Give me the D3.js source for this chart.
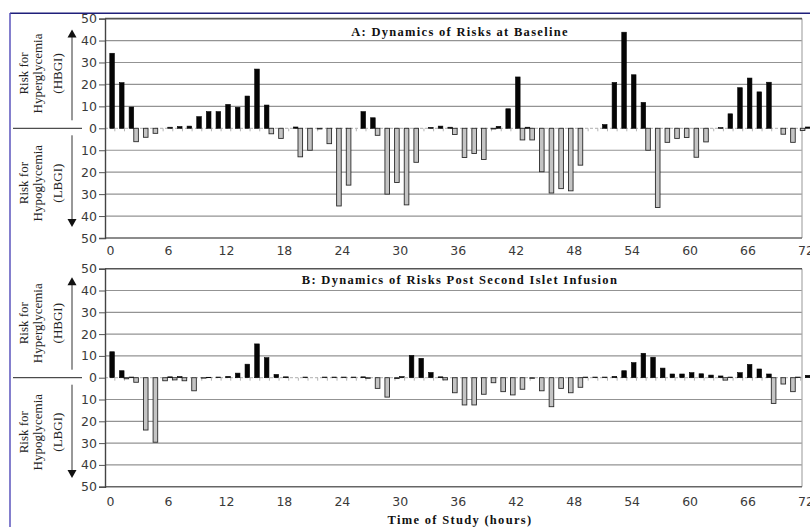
<!DOCTYPE html>
<html>
<head>
<meta charset="utf-8">
<script src="https://cdn.jsdelivr.net/npm/d3@7"></script>
<style>
  html, body { margin: 0; padding: 0; background: #fff; }
  svg { display: block; }
</style>
</head>
<body>
<svg id="chart" width="810" height="527"></svg>
<script>
// ---- data -------------------------------------------------------------
const hours = d3.range(0, 73);                  // hourly categories 0..72
const hourTicks = [0, 6, 12, 18, 24, 30, 36, 42, 48, 54, 60, 66, 72];
const riskTicks = [-50, -40, -30, -20, -10, 0, 10, 20, 30, 40, 50];
const seriesNames = ["LBGI", "HBGI"];

const titleA = "A: Dynamics of Risks at Baseline";
const titleB = "B: Dynamics of Risks Post Second Islet Infusion";
const xTitle = "Time of Study (hours)";

// Panel A – baseline
const hbgiBaseline = [
  34.2, 20.8, 9.7, 0, 0, 0, 0.5, 0.8, 1.0, 5.3,
  7.6, 7.6, 10.9, 9.6, 14.7, 27.0, 10.6, 0, 0, 0.6,
  0, 0, 0, 0, 0, 0, 7.6, 4.8, 0, 0,
  0, 0, 0, 0.4, 1.0, 0.5, 0, 0, 0, 0,
  0.9, 8.9, 23.4, 0.5, 0, 0, 0, 0, 0, 0,
  0, 1.7, 20.9, 43.8, 24.4, 11.8, 0, 0, 0, 0,
  0, 0, 0, 0.3, 6.6, 18.5, 22.9, 16.6, 21.0, 0,
  0, 0, 0.6
];
const lbgiBaseline = [
  0, 0, 0, 6.1, 4.1, 2.3, 0, 0, 0, 0,
  0, 0, 0, 0, 0, 0, 0, 2.5, 4.6, 0,
  13.0, 10.0, 0.3, 7.0, 35.4, 25.9, 0, 0, 3.2, 30.0,
  24.7, 34.9, 15.5, 0, 0, 0, 2.8, 13.3, 11.5, 14.2,
  0.3, 0, 0, 5.3, 5.3, 19.8, 29.5, 27.5, 28.5, 16.8,
  0, 0, 0, 0, 0, 0, 10.0, 36.1, 6.4, 4.6,
  4.2, 13.2, 6.2, 0, 0, 0, 0, 0, 0, 0,
  2.7, 6.4, 1.0
];

// Panel B – after the second islet infusion
const hbgiPost = [
  11.9, 3.2, 0.3, 0, 0, 0, 0.4, 0.5, 0, 0,
  0.2, 0.3, 0.6, 2.1, 6.2, 15.5, 9.2, 1.5, 0.4, 0,
  0.3, 0, 0.3, 0.3, 0.3, 0.3, 0.4, 0, 0, 0,
  0.5, 10.2, 8.9, 2.4, 0.4, 0, 0, 0, 0, 0,
  0, 0, 0, 0, 0, 0, 0, 0, 0, 0.3,
  0.3, 0.3, 0.6, 3.2, 6.9, 11.2, 9.4, 4.4, 1.7, 1.7,
  2.3, 1.8, 1.2, 0.8, 0.3, 2.3, 6.1, 4.0, 1.7, 0,
  0, 0.3, 1.1
];
const lbgiPost = [
  0, 0, 0.5, 2.1, 24.0, 29.6, 1.4, 1.0, 1.4, 6.0,
  0.2, 0, 0, 0, 0, 0, 0, 0, 0, 0,
  0, 0, 0, 0, 0, 0, 0, 0.3, 4.9, 8.9,
  0.4, 0, 0, 0, 0, 1.0, 6.9, 12.5, 12.5, 7.6,
  2.3, 6.4, 7.9, 5.3, 0.3, 6.0, 13.3, 4.9, 6.9, 4.4,
  0, 0, 0, 0, 0, 0, 0, 0, 0, 0,
  0, 0, 0, 0, 1.1, 0, 0, 0, 0, 11.8,
  2.9, 6.4, 0
];

// ---- layout -----------------------------------------------------------
const svg = d3.select("#chart");
const plotLeft = 105, plotRight = 802;
const x = d3.scaleLinear().domain([0, 72]).range([110, 805.5]);
const inner = d3.scaleBand().domain(seriesNames).range([-5.2, 4.8]);

const tickFont = "'DejaVu Sans', Verdana, sans-serif";
const serifFont = "'Liberation Serif', 'Times New Roman', serif";

// outer figure frame
svg.append("line").attr("x1", 10).attr("x2", 810).attr("y1", 13.3).attr("y2", 13.3)
  .attr("stroke", "#1f1f7a").attr("stroke-width", 1.4);
svg.append("line").attr("x1", 10).attr("x2", 10).attr("y1", 13).attr("y2", 527)
  .attr("stroke", "#4f48b8").attr("stroke-width", 1.4);

const panels = [
  { top: 18.6, bottom: 238, hbgi: hbgiBaseline, lbgi: lbgiBaseline, title: titleA,
    titleY: 31.5, labelPad: 8.6, tipUp: 11, tipDown: 11 },
  { top: 268.7, bottom: 486.7, hbgi: hbgiPost, lbgi: lbgiPost, title: titleB,
    titleY: 279.5, labelPad: 10.2, tipUp: 8.6, tipDown: 8.7 }
];

panels.forEach(p => {
  const y = d3.scaleLinear().domain([-50, 50]).range([p.bottom, p.top]);
  const y0 = y(0);
  const g = svg.append("g");

  // horizontal gridlines
  g.selectAll("line.grid")
    .data(riskTicks.filter(t => Math.abs(t) !== 50 && t !== 0))
    .join("line")
    .attr("x1", plotLeft).attr("x2", plotRight)
    .attr("y1", d => y(d)).attr("y2", d => y(d))
    .attr("stroke", "#939393").attr("stroke-width", 1.2);

  // zero line (category axis) with category ticks
  g.append("line")
    .attr("x1", plotLeft).attr("x2", plotRight)
    .attr("y1", y0).attr("y2", y0)
    .attr("stroke", "#b0b0b0").attr("stroke-width", 1)
    .attr("stroke-dasharray", "3,2");
  g.selectAll("line.cat")
    .data(hours.slice(0, 72))
    .join("line")
    .attr("x1", d => (x(d) + x(d + 1)) / 2).attr("x2", d => (x(d) + x(d + 1)) / 2)
    .attr("y1", y0).attr("y2", y0 + 3)
    .attr("stroke", "#b5b5b5").attr("stroke-width", 1);

  // plot frame
  g.append("line").attr("x1", plotRight).attr("x2", plotRight)
    .attr("y1", p.top).attr("y2", p.bottom)
    .attr("stroke", "#a8a8a8").attr("stroke-width", 1.2);
  g.append("line").attr("x1", plotLeft).attr("x2", plotRight)
    .attr("y1", p.top).attr("y2", p.top)
    .attr("stroke", "#555").attr("stroke-width", 1.6);
  g.append("line").attr("x1", plotLeft).attr("x2", plotRight)
    .attr("y1", p.bottom).attr("y2", p.bottom)
    .attr("stroke", "#666").attr("stroke-width", 1.4);

  // hypoglycemia risk bars (downward, grey)
  g.selectAll("rect.lbgi")
    .data(hours.filter(h => p.lbgi[h] > 0))
    .join("rect")
    .attr("x", h => x(h) + inner("LBGI"))
    .attr("width", inner.bandwidth() - 0.4)
    .attr("y", y0)
    .attr("height", h => y(-p.lbgi[h]) - y0)
    .attr("fill", "#c4c4c4")
    .attr("stroke", "#2b2b2b").attr("stroke-width", 0.9);

  // hyperglycemia risk bars (upward, black)
  g.selectAll("rect.hbgi")
    .data(hours.filter(h => p.hbgi[h] > 0))
    .join("rect")
    .attr("x", h => x(h) + inner("HBGI"))
    .attr("width", inner.bandwidth() - 0.4)
    .attr("y", h => y(p.hbgi[h]))
    .attr("height", h => y0 - y(p.hbgi[h]))
    .attr("fill", "#050505")
    .attr("stroke", "#050505").attr("stroke-width", 0.6);

  // left value axis
  const yAxis = g.append("g")
    .attr("transform", `translate(${plotLeft},0)`)
    .call(d3.axisLeft(y).tickValues(riskTicks).tickFormat(d => Math.abs(d))
      .tickSize(6).tickPadding(2));
  yAxis.select(".domain").attr("stroke", "#444").attr("stroke-width", 1.4);
  yAxis.selectAll(".tick line").attr("stroke", "#555");
  yAxis.selectAll("text").attr("font-family", tickFont).attr("font-size", 12.5)
    .attr("fill", "#3a3a3a");

  // hour labels
  const xAxis = g.append("g")
    .attr("transform", `translate(0,${p.bottom})`)
    .call(d3.axisBottom(x).tickValues(hourTicks).tickSize(0).tickPadding(p.labelPad));
  xAxis.select(".domain").remove();
  xAxis.selectAll("text").attr("font-family", tickFont).attr("font-size", 12.5)
    .attr("fill", "#3a3a3a");

  // panel title
  g.append("text")
    .attr("x", 460).attr("y", p.titleY)
    .attr("text-anchor", "middle").attr("dominant-baseline", "central")
    .attr("font-family", serifFont).attr("font-weight", "bold")
    .attr("font-size", 12.5).attr("letter-spacing", 1.3)
    .attr("fill", "#111")
    .text(p.title);

  // separator between the two risk directions
  g.append("line").attr("x1", 13).attr("x2", 82).attr("y1", y0).attr("y2", y0)
    .attr("stroke", "#222").attr("stroke-width", 1);

  // direction arrows
  const ax = 72;
  const upTip = p.top + p.tipUp, downTip = p.bottom - p.tipDown;
  g.append("line").attr("x1", ax).attr("x2", ax).attr("y1", upTip + 6).attr("y2", y0 - 8)
    .attr("stroke", "#333").attr("stroke-width", 1);
  g.append("path").attr("d", `M${ax},${upTip} L${ax - 4.5},${upTip + 8} L${ax + 4.5},${upTip + 8} Z`)
    .attr("fill", "#111");
  g.append("line").attr("x1", ax).attr("x2", ax).attr("y1", y0 + 7).attr("y2", downTip - 6)
    .attr("stroke", "#333").attr("stroke-width", 1);
  g.append("path").attr("d", `M${ax},${downTip} L${ax - 4.5},${downTip - 8} L${ax + 4.5},${downTip - 8} Z`)
    .attr("fill", "#111");

  // rotated side labels
  const sideLabel = (lines, cy) => {
    const cols = [27.5, 42, 62.3];
    lines.forEach((t, i) => {
      g.append("text")
        .attr("transform", `translate(${cols[i]},${cy}) rotate(-90)`)
        .attr("text-anchor", "middle")
        .attr("font-family", serifFont).attr("font-size", 13)
        .attr("fill", "#222")
        .text(t);
    });
  };
  sideLabel(["Risk for", "Hyperglycemia", "(HBGI)"], (p.top + y0) / 2);
  sideLabel(["Risk for", "Hypoglycemia", "(LBGI)"], (y0 + p.bottom) / 2);
});

// shared hour axis title
svg.append("text")
  .attr("x", 460).attr("y", 523.5)
  .attr("text-anchor", "middle")
  .attr("font-family", serifFont).attr("font-weight", "bold")
  .attr("font-size", 12.5).attr("letter-spacing", 1.3)
  .attr("fill", "#111")
  .text(xTitle);
</script>
</body>
</html>
